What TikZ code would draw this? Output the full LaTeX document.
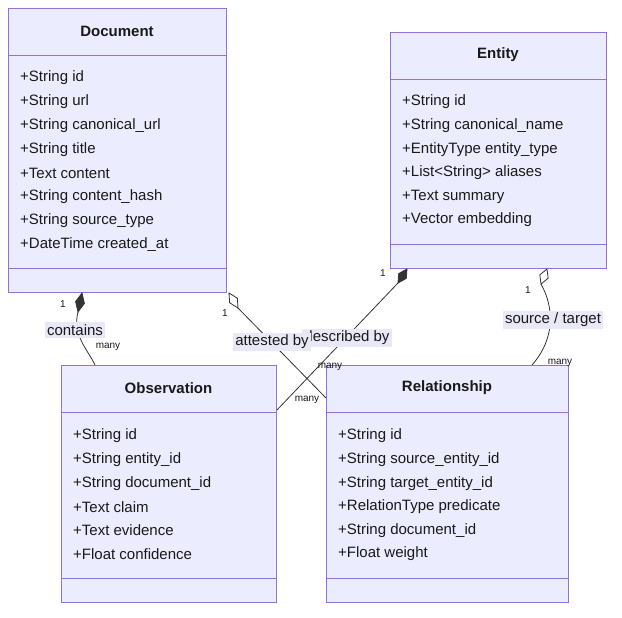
\documentclass[tikz,border=0pt]{standalone}
\usepackage{fontspec}
\setmainfont{Liberation Sans}
\usetikzlibrary{calc}
\definecolor{boxfill}{HTML}{ECECFF}
\definecolor{boxline}{HTML}{9370DB}
\definecolor{lbl}{HTML}{E8E8F6}
\definecolor{ink}{HTML}{333333}
\tikzset{
  cls/.style={draw=boxline,fill=boxfill,line width=0.9pt,rectangle,inner sep=0pt},
  ttl/.style={font=\fontsize{15}{18}\selectfont\bfseries,text=black!90},
  attr/.style={font=\fontsize{15}{18}\selectfont,anchor=west,text=black!90,inner sep=0pt},
  div/.style={draw=boxline,line width=0.9pt},
  conn/.style={draw=ink,line width=0.8pt},
  elbl/.style={fill=lbl,font=\fontsize{15}{18}\selectfont,inner sep=2pt,text=black!90},
  card/.style={font=\fontsize{10}{12}\selectfont,text=black!90,inner sep=0pt},
}
\newcommand{\mydiam}[3]{% A, B, fill
  \draw[conn,fill=#3] (#1) -- ($(#1)!.5!(#2)!4.5pt!90:(#2)$) -- (#2) -- ($(#1)!.5!(#2)!4.5pt!-90:(#2)$) -- cycle;}
\begin{document}
\begin{tikzpicture}[x=1pt,y=-1pt]
\useasboundingbox (0,0) rectangle (622,618);
% boxes
\node[cls,minimum width=218,minimum height=284] (doc) at (117,150) {};
\node[cls,minimum width=216,minimum height=236] (ent) at (498,150) {};
\node[cls,minimum width=215,minimum height=237] (obs) at (168.5,483.5) {};
\node[cls,minimum width=242,minimum height=237] (rel) at (447,483.5) {};
\draw[div] (8,55) -- (226,55) (8,268) -- (226,268);
\draw[div] (390,79) -- (606,79) (390,244) -- (606,244);
\draw[div] (61,412) -- (276,412) (61,578) -- (276,578);
\draw[div] (326,412) -- (568,412) (326,578) -- (568,578);
\node[ttl] (doct) at (117,31) {Document};
\node[ttl] (entt) at (498,55) {Entity};
\node[ttl] (obst) at (168.5,388) {Observation};
\node[ttl] (relt) at (447,388) {Relationship};
\foreach \t [count=\i from 0] in {+String id,+String url,+String canonical\_url,+String title,+Text content,+String content\_hash,+String source\_type,+DateTime created\_at}
  \node[attr] (da\i) at (20,{78+23.8*\i}) {\t};
\foreach \t [count=\i from 0] in {+String id,+String canonical\_name,+EntityType entity\_type,+List<String> aliases,+Text summary,+Vector embedding}
  \node[attr] (ea\i) at (402,{102+23.6*\i}) {\t};
\foreach \t [count=\i from 0] in {+String id,+String entity\_id,+String document\_id,+Text claim,+Text evidence,+Float confidence}
  \node[attr] (oa\i) at (73,{436+23.6*\i}) {\t};
\foreach \t [count=\i from 0] in {+String id,+String source\_entity\_id,+String target\_entity\_id,+RelationType predicate,+String document\_id,+Float weight}
  \node[attr] (ra\i) at (338,{436+23.6*\i}) {\t};
% connector endpoints
\coordinate (c1a) at (82,293); \coordinate (c1b) at (78,312); \coordinate (c1e) at (95,365);
\coordinate (c2a) at (229,293); \coordinate (c2b) at (238,308); \coordinate (c2e) at (326,398);
\coordinate (c3a) at (407,269); \coordinate (c3b) at (398,283); \coordinate (c3e) at (277,410);
\coordinate (c4a) at (547,269); \coordinate (c4b) at (541,284); \coordinate (c4e) at (532,365);
\draw[conn] (c1b) .. controls (72,335) and (88,350) .. (c1e);
\draw[conn] (c2b) -- (c2e);
\draw[conn] (c3b) -- (c3e);
\draw[conn] (c4b) .. controls (558,315) and (550,345) .. (c4e);
\mydiam{c1a}{c1b}{ink}
\mydiam{c2a}{c2b}{white}
\mydiam{c3a}{c3b}{ink}
\mydiam{c4a}{c4b}{white}
% labels
\node[elbl] (l1) at (75,330) {contains};
\node[elbl] (l3) at (347,338) {described by};
\node[elbl] (l2) at (272,342) {attested by};
\node[elbl] (l4) at (553,320) {source / target};
\node[card] (k1a) at (63,304) {1};
\node[card] (k1b) at (108,347) {many};
\node[card] (k2a) at (225,313) {1};
\node[card] (k2b) at (330,367) {many};
\node[card] (k3a) at (383,273) {1};
\node[card] (k3b) at (307,400) {many};
\node[card] (k4a) at (528,290) {1};
\node[card] (k4b) at (560,363) {many};
\end{tikzpicture}
\end{document}
